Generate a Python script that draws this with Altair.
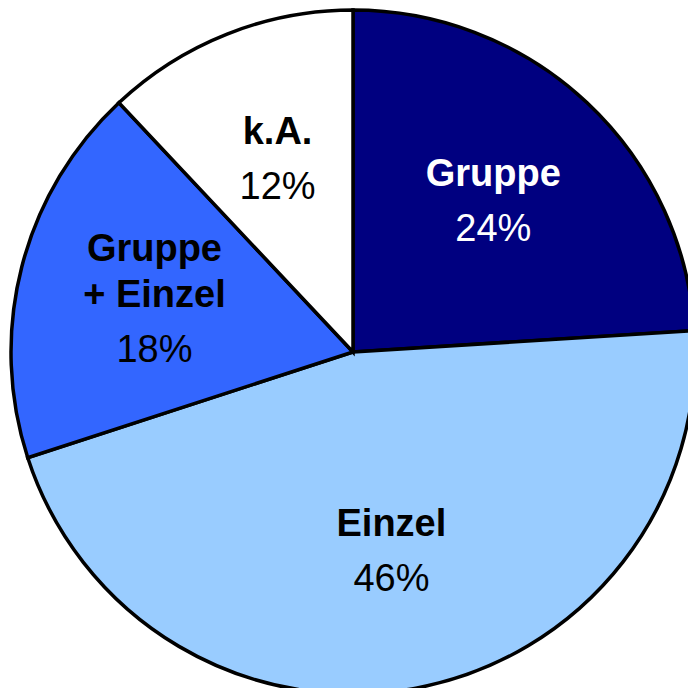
import altair as alt
import pandas as pd

# Data
categories = ["Gruppe", "Einzel", "Gruppe\n+ Einzel", "k.A."]
values = [24, 46, 18, 12]
pct_labels = ["24%", "46%", "18%", "12%"]

# Styles
slice_colors = ["#000080", "#99CCFF", "#3366FF", "#FFFFFF"]
text_colors = ["#FFFFFF", "#000000", "#000000", "#000000"]

BLANK = "\u00a0"  # a leading half-line that pushes single-line labels down


def first_row(name):
    lines = name.split("\n")
    return lines[0] if len(lines) > 1 else BLANK + "\n" + lines[0]


def second_row(name):
    lines = name.split("\n")
    return lines[1] if len(lines) > 1 else ""


def pct_rows(name, pct):
    return (BLANK + "\n") * (len(name.split("\n")) - 1) + pct


df = pd.DataFrame({
    "cat": categories,
    "value": values,
    "row1": [first_row(c) for c in categories],
    "row2": [second_row(c) for c in categories],
    "pct_txt": [pct_rows(c, p) for c, p in zip(categories, pct_labels)],
    "order": list(range(len(categories))),
    "tcol": text_colors,
})

FONT = "Liberation Sans"
CX, CY, R = 345, 344, 342
LR = 205
Y0 = -40

base = alt.Chart(df).encode(
    theta=alt.Theta("value:Q", stack=True),
    order=alt.Order("order:Q"),
    x=alt.value(CX),
    y=alt.value(CY),
)

arcs = base.mark_arc(radius=R, stroke="black", strokeWidth=3.5).encode(
    color=alt.Color("cat:N", scale=alt.Scale(domain=categories, range=slice_colors), legend=None)
)

txt = dict(radius=LR, font=FONT, fontSize=38, align="center",
           baseline="alphabetic", lineBreak="\n", lineHeight=23)

name1 = base.mark_text(fontWeight="bold", dy=Y0, **txt).encode(
    text="row1:N", color=alt.Color("tcol:N", scale=None))

name2 = base.mark_text(fontWeight="bold", dy=Y0 + 46, **txt).encode(
    text="row2:N", color=alt.Color("tcol:N", scale=None))

pcts = base.mark_text(dy=Y0 + 78, **txt).encode(
    text="pct_txt:N", color=alt.Color("tcol:N", scale=None))

chart = (
    alt.layer(arcs, name1, name2, pcts)
    .properties(width=680, height=680, padding=0, autosize="none")
    .configure_view(stroke=None)
)

chart.save("out.html", embed_options={"renderer": "svg", "actions": False})
